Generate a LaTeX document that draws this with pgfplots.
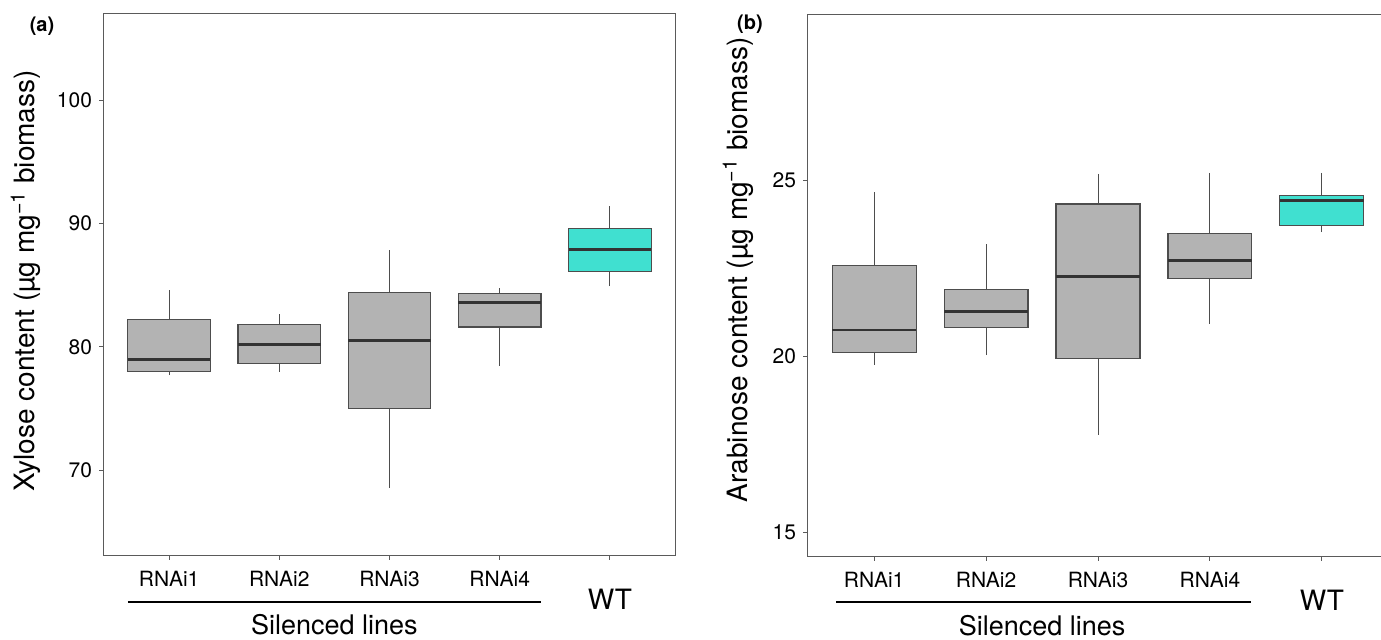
\documentclass[border=0pt]{standalone}
\usepackage{fontspec}
\setmainfont{TeX Gyre Heros}
\usepackage{pgfplots}
\pgfplotsset{compat=1.18}
\usepgfplotslibrary{statistics}

\definecolor{boxgray}{HTML}{B3B3B3}
\definecolor{boxedge}{HTML}{4D4D4D}
\definecolor{medline}{HTML}{333333}
\definecolor{framegray}{HTML}{5A5A5A}
\definecolor{wtcol}{HTML}{40E0D0}

\pgfplotsset{
  panel/.style={
    scale only axis,
    xmin=0.4, xmax=5.6,
    xtick={1,2,3,4,5},
    xticklabels={RNAi1,RNAi2,RNAi3,RNAi4,{}},
    tick align=outside,
    tick pos=left,
    major tick length=2pt,
    tick style={draw=framegray, line width=0.5pt},
    axis line style={draw=framegray, line width=0.5pt},
    ticklabel style={font=\fontsize{10.5}{12}\selectfont},
    xticklabel style={yshift=-2pt},
    /pgf/number format/assume math mode=true,
    label style={font=\fontsize{14}{16}\selectfont},
    clip=false,
  },
  bx/.style={
    boxplot/draw direction=y,
    boxplot/box extend=0.75,
    boxplot/whisker extend=0,
    solid, draw=boxedge, line width=0.6pt, fill=#1,
    boxplot/every median/.style={line width=1.4pt, draw=medline},
    boxplot/every whisker/.style={line width=0.5pt, draw=boxedge},
  },
  bx/.default=boxgray,
}

\begin{document}
\begin{tikzpicture}

% (a) xylose
\begin{axis}[panel,
  at={(51.5pt,42pt)}, anchor=south west,
  width=286.5pt, height=271pt,
  ymin=63.04, ymax=107.0,
  ytick={70,80,90,100},
  ylabel={Xylose content (µg mg\textsuperscript{\char"2212 1} biomass)},
  ylabel style={at={(axis description cs:-0.1187,0.508)}, anchor=base},
]
\addplot[bx, boxplot prepared={draw position=1, lower whisker=77.68, lower quartile=78.0, median=79.0, upper quartile=82.25, upper whisker=84.58}] coordinates {};
\addplot[bx, boxplot prepared={draw position=2, lower whisker=78.0, lower quartile=78.62, median=80.22, upper quartile=81.84, upper whisker=82.65}] coordinates {};
\addplot[bx, boxplot prepared={draw position=3, lower whisker=68.54, lower quartile=75.0, median=80.54, upper quartile=84.41, upper whisker=87.82}] coordinates {};
\addplot[bx, boxplot prepared={draw position=4, lower whisker=78.46, lower quartile=81.62, median=83.6, upper quartile=84.34, upper whisker=84.77}] coordinates {};
\addplot[bx=wtcol, boxplot prepared={draw position=5, lower whisker=84.9, lower quartile=86.1, median=87.89, upper quartile=89.6, upper whisker=91.4}] coordinates {};
\draw[line width=1pt] ([yshift=-23pt]axis cs:0.625,63.04) -- ([yshift=-23pt]axis cs:4.375,63.04);
\node[anchor=base, font=\fontsize{13.5}{15}\selectfont] at ([yshift=-39.5pt]axis cs:2.5,63.04) {Silenced lines};
\node[anchor=base, font=\fontsize{14}{16}\selectfont] at ([yshift=-27pt]axis cs:5,63.04) {WT};
\end{axis}

% (b) arabinose
\begin{axis}[panel,
  at={(403.5pt,41.5pt)}, anchor=south west,
  width=291pt, height=271pt,
  ymin=14.30, ymax=29.70,
  ytick={15,20,25},
  ylabel={Arabinose content (µg mg\textsuperscript{\char"2212 1} biomass)},
  ylabel style={at={(axis description cs:-0.103,0.53)}, anchor=base},
]
\addplot[bx, boxplot prepared={draw position=1, lower whisker=19.76, lower quartile=20.11, median=20.75, upper quartile=22.58, upper whisker=24.67}] coordinates {};
\addplot[bx, boxplot prepared={draw position=2, lower whisker=20.03, lower quartile=20.82, median=21.28, upper quartile=21.89, upper whisker=23.18}] coordinates {};
\addplot[bx, boxplot prepared={draw position=3, lower whisker=17.78, lower quartile=19.94, median=22.27, upper quartile=24.33, upper whisker=25.19}] coordinates {};
\addplot[bx, boxplot prepared={draw position=4, lower whisker=20.92, lower quartile=22.21, median=22.73, upper quartile=23.48, upper whisker=25.22}] coordinates {};
\addplot[bx=wtcol, boxplot prepared={draw position=5, lower whisker=23.52, lower quartile=23.73, median=24.42, upper quartile=24.57, upper whisker=25.22}] coordinates {};
\draw[line width=1pt] ([yshift=-22.5pt]axis cs:0.66,14.30) -- ([yshift=-22.5pt]axis cs:4.37,14.30);
\node[anchor=base, font=\fontsize{13.5}{15}\selectfont] at ([yshift=-39.5pt]axis cs:2.5,14.30) {Silenced lines};
\node[anchor=base, font=\fontsize{14}{16}\selectfont] at ([yshift=-27pt]axis cs:5,14.30) {WT};
\end{axis}

\node[font=\bfseries\fontsize{10}{12}\selectfont] at (21pt,307pt) {(a)};
\node[font=\bfseries\fontsize{10}{12}\selectfont] at (375pt,308pt) {(b)};

\pgfresetboundingbox
\useasboundingbox (0pt,0pt) rectangle (690.5pt,320pt);
\end{tikzpicture}
\end{document}
